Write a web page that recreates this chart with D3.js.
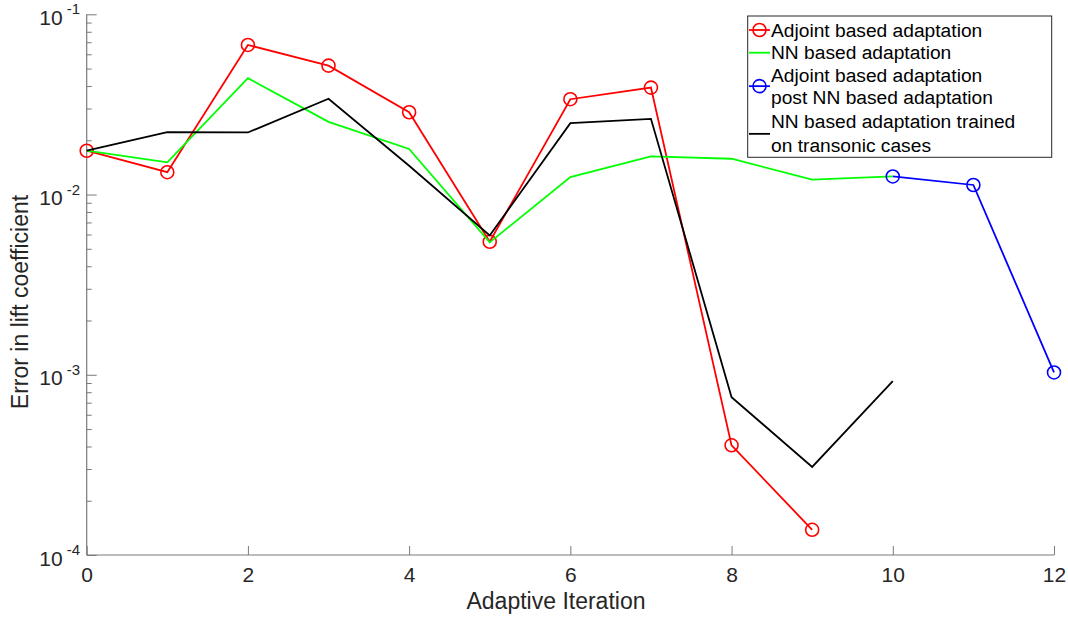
<!DOCTYPE html>
<html>
<head>
<meta charset="utf-8">
<script src="https://cdn.jsdelivr.net/npm/d3@7"></script>
<style>
  html, body { margin: 0; padding: 0; background: #fff; }
  svg { display: block; font-family: "Liberation Sans", Arial, Helvetica, sans-serif; }
</style>
</head>
<body>
<svg id="chart" width="1068" height="617"></svg>
<script>
// Adaptive iteration index for each series
const iterAdjoint = [0, 1, 2, 3, 4, 5, 6, 7, 8, 9];
const iterNN = [0, 1, 2, 3, 4, 5, 6, 7, 8, 9, 10];
const iterPost = [10, 11, 12];
const iterTransonic = [0, 1, 2, 3, 4, 5, 6, 7, 8, 9, 10];

// Error in lift coefficient
const errAdjoint = [0.0175, 0.0133, 0.0676, 0.0519, 0.0286, 0.00547, 0.0338, 0.0392, 4.06e-4, 1.38e-4];
const errNN = [0.0175, 0.0151, 0.0442, 0.0253, 0.0179, 0.00543, 0.0125, 0.0163, 0.0158, 0.0121, 0.0126];
const errPost = [0.0126, 0.0113, 0.00103];
const errTransonic = [0.0175, 0.0222, 0.0221, 0.0340, 0.01445, 0.00593, 0.0249, 0.0263, 7.51e-4, 3.08e-4, 9.22e-4];

const xTicks = [0, 2, 4, 6, 8, 10, 12];
const yDecades = [1e-4, 1e-3, 1e-2, 1e-1];
const yExponents = ["-4", "-3", "-2", "-1"];

const legendLabels = [
  ["Adjoint based adaptation"],
  ["NN based adaptation"],
  ["Adjoint based adaptation", "post NN based adaptation"],
  ["NN based adaptation trained", "on transonic cases"]
];

const series = [
  { x: iterAdjoint, y: errAdjoint, color: "#ff0000", marker: true },
  { x: iterNN, y: errNN, color: "#00ff00", marker: false },
  { x: iterPost, y: errPost, color: "#0000ff", marker: true },
  { x: iterTransonic, y: errTransonic, color: "#000000", marker: false }
];

const svg = d3.select("#chart");
const plotLeft = 86.7, plotRight = 1054, plotTop = 14.3, plotBottom = 555;

const x = d3.scaleLinear().domain([0, 12]).range([plotLeft, plotRight]);
const y = d3.scaleLog().domain([1e-4, 1e-1]).range([plotBottom, plotTop]);

const axisColor = "#7a7a7a";
const textColor = "#262626";

// Minor log ticks (2..9 within each decade)
const minor = [];
for (let e = -4; e < -1; e++) {
  for (let m = 2; m <= 9; m++) minor.push(m * Math.pow(10, e));
}

const gy = svg.append("g").attr("transform", `translate(${plotLeft},0)`);
gy.call(d3.axisLeft(y).tickValues(minor).tickSize(-5).tickFormat(""));
gy.append("g").call(d3.axisLeft(y).tickValues(yDecades).tickSize(-10).tickFormat(""));
gy.selectAll(".domain").remove();
gy.selectAll("line").attr("stroke", axisColor).attr("stroke-width", 1);

// Decade labels written as 10 with a superscript exponent
yDecades.forEach((d, i) => {
  const t = svg.append("text")
    .attr("x", 80)
    .attr("y", y(d) + 10.5)
    .attr("text-anchor", "end")
    .attr("fill", textColor)
    .attr("font-size", 21);
  t.append("tspan").text("10");
  t.append("tspan").attr("font-size", 15).attr("dx", 4).attr("dy", -10.5).text(yExponents[i]);
});

const gx = svg.append("g").attr("transform", `translate(0,${plotBottom})`);
gx.call(d3.axisBottom(x).tickValues(xTicks).tickSize(-9).tickFormat(d3.format("d")));
gx.select(".domain").remove();
gx.selectAll("line").attr("stroke", axisColor);
gx.selectAll("text")
  .attr("fill", textColor)
  .attr("font-size", 21)
  .attr("font-family", "Liberation Sans, Arial, sans-serif")
  .attr("y", 27)
  .attr("dy", 0);

// Axis lines (left and bottom only)
svg.append("line").attr("x1", plotLeft).attr("x2", plotLeft).attr("y1", plotTop).attr("y2", plotBottom)
  .attr("stroke", axisColor).attr("stroke-width", 1.2);
svg.append("line").attr("x1", plotLeft).attr("x2", plotRight).attr("y1", plotBottom).attr("y2", plotBottom)
  .attr("stroke", axisColor).attr("stroke-width", 1.2);

// Data lines and circle markers
const line = d3.line().x(d => x(d[0])).y(d => y(d[1]));
series.forEach(s => {
  const pts = s.x.map((v, i) => [v, s.y[i]]);
  svg.append("path").datum(pts)
    .attr("d", line)
    .attr("fill", "none")
    .attr("stroke", s.color)
    .attr("stroke-width", 1.8)
    .attr("stroke-linejoin", "miter");
  if (s.marker) {
    svg.append("g").selectAll("circle").data(pts).join("circle")
      .attr("cx", d => x(d[0]))
      .attr("cy", d => y(d[1]))
      .attr("r", 6.5)
      .attr("fill", "none")
      .attr("stroke", s.color)
      .attr("stroke-width", 1.6);
  }
});

// Axis titles
svg.append("text")
  .attr("x", 556).attr("y", 609)
  .attr("text-anchor", "middle")
  .attr("fill", textColor)
  .attr("font-size", 23)
  .text("Adaptive Iteration");

svg.append("text")
  .attr("transform", "translate(28,302) rotate(-90)")
  .attr("text-anchor", "middle")
  .attr("fill", textColor)
  .attr("font-size", 23)
  .text("Error in lift coefficient");

// Legend
const lg = svg.append("g");
lg.append("rect")
  .attr("x", 747.7).attr("y", 16).attr("width", 304).attr("height", 141.3)
  .attr("fill", "#fff").attr("stroke", "#262626").attr("stroke-width", 1);

const rowY = [30, 52.7, 75, 97.3, 121.7, 145];
const entryRows = [[0], [1], [2, 3], [4, 5]];
legendLabels.forEach((lines, i) => {
  const rows = entryRows[i];
  const cy = (rowY[rows[0]] + rowY[rows[rows.length - 1]]) / 2;
  const s = series[i];
  lg.append("line")
    .attr("x1", 749).attr("x2", 770)
    .attr("y1", i === 3 ? cy + 0.5 : cy).attr("y2", i === 3 ? cy + 0.5 : cy)
    .attr("stroke", s.color).attr("stroke-width", 1.8);
  if (s.marker) {
    lg.append("circle").attr("cx", 759.5).attr("cy", cy).attr("r", 6.5)
      .attr("fill", "none").attr("stroke", s.color).attr("stroke-width", 1.6);
  }
  lines.forEach((txt, k) => {
    lg.append("text")
      .attr("x", 771).attr("y", rowY[rows[k]])
      .attr("dy", "0.35em")
      .attr("fill", "#000")
      .attr("font-size", 19.2)
      .text(txt);
  });
});
</script>
</body>
</html>
